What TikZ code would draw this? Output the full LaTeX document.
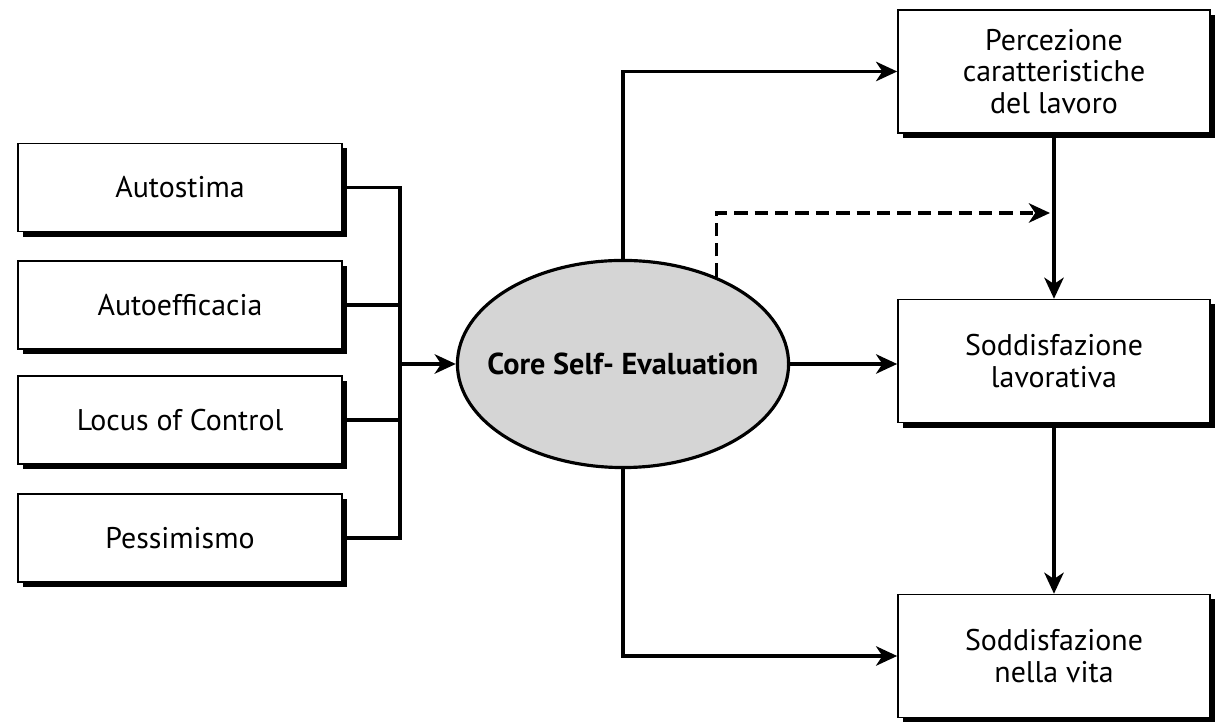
\documentclass[tikz,border=0pt]{standalone}
\usepackage{fontspec}
\setmainfont{PT Sans}
\usetikzlibrary{arrows.meta,shapes.geometric,shadows}
\begin{document}
\begin{tikzpicture}[x=0.01cm,y=-0.01cm,
  font=\fontsize{8.5}{9}\selectfont,
  box/.style={draw=black, line width=0.4pt, fill=white, align=center,
    inner sep=0pt, minimum width=3.24cm, minimum height=0.88cm,
    drop shadow={shadow xshift=0.05cm, shadow yshift=-0.05cm, fill=black, opacity=1}},
  rbox/.style={box, minimum width=3.12cm, minimum height=1.23cm},
  conn/.style={line width=1.1pt, line join=miter},
  arr/.style={conn, -{Stealth[length=6pt, width=5.5pt, inset=1.8pt]}},
  darr/.style={arr, dash pattern=on 3.8pt off 2pt}]
\useasboundingbox (0,0) rectangle (1217,722);

\node[box] (b1) at (180,187.5) {Autostima};
\node[box] (b2) at (180,305) {Autoefficacia};
\node[box] (b3) at (180,420) {Locus of Control};
\node[box] (b4) at (180,538) {Pessimismo};

\node[ellipse, draw=black, line width=0.9pt, fill=gray!33, minimum width=3.31cm,
  minimum height=2.07cm, inner sep=0pt, font=\fontsize{8.6}{9}\selectfont\bfseries]
  (cse) at (623,364) {\makebox[0pt]{Core Self- Evaluation}};

\node[rbox] (pa) at (1054,71.5) {Percezione\\caratteristiche\\del lavoro};
\node[rbox] (sl) at (1054,361) {Soddisfazione\\lavorativa};
\node[rbox] (sv) at (1054,656) {Soddisfazione\\nella vita};

\coordinate (bus) at (400,364);
\coordinate (dtip) at (1050,213);

\draw[conn] (b1.east) -| (bus);
\draw[conn] (b4.east) -| (bus);
\draw[conn] (b2.east) -- (b2.east -| bus);
\draw[conn] (b3.east) -- (b3.east -| bus);
\draw[arr] (bus) -- (cse.west);

\draw[arr] (cse.north) |- (pa.west);
\draw[arr] (cse.east) -- (cse.east -| sl.west);
\draw[arr] (cse.south) |- (sv.west);
\draw[darr] (cse.43) |- (dtip);

\draw[arr] (pa.south) -- (sl.north);
\draw[arr] (sl.south) -- (sv.north);
\end{tikzpicture}
\end{document}
